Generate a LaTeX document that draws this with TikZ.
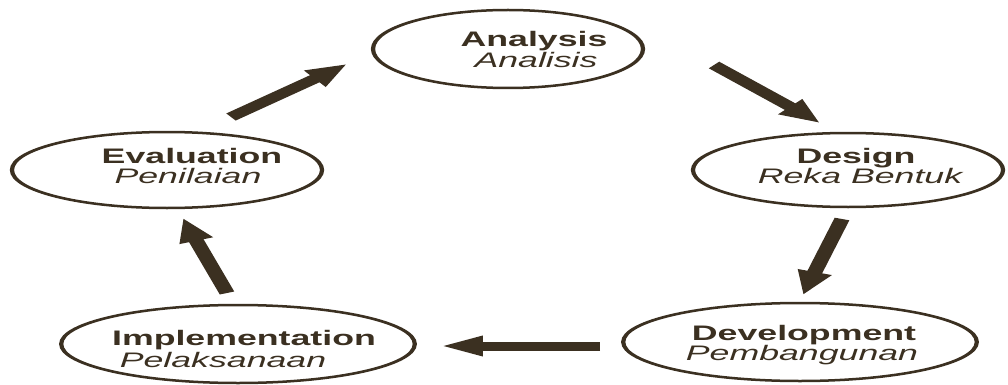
\documentclass[tikz,border=0pt]{standalone}
\usepackage{fontspec}
\setmainfont{Liberation Sans}
\usetikzlibrary{arrows.meta,shapes.geometric}
\definecolor{ink}{HTML}{3B3021}
\begin{document}
\begin{tikzpicture}[x=1pt,y=-1pt]
\useasboundingbox (0,0) rectangle (1008,385);
% everything is drawn in a horizontally widened frame
\begin{scope}[x=0.588235pt, y=-1pt, transform canvas={xscale=1.7},
  phase/.style={draw=ink, line width=2.5pt, ellipse, inner sep=0pt, outer sep=0pt},
  title/.style={font=\fontsize{21}{21}\selectfont\bfseries, text=ink, anchor=base, inner sep=0pt},
  subtitle/.style={font=\fontsize{21}{21}\selectfont\itshape, text=ink, anchor=base, inner sep=0pt},
  flow/.style={draw=ink, line width=9pt, -{Triangle[length=24pt,width=19pt]}}]

  % phases of the cycle
  \node[phase, minimum width=158.8pt, minimum height=78pt] (an) at (508,49) {};
  \node[phase, minimum width=182.4pt, minimum height=74pt] (de) at (848,170) {};
  \node[phase, minimum width=208pt, minimum height=78pt] (dv) at (800,342) {};
  \node[phase, minimum width=208pt, minimum height=78pt] (im) at (238,344) {};
  \node[phase, minimum width=182.4pt, minimum height=76pt] (ev) at (167,170) {};

  % labels
  \node[title]    (anA) at (534,47)  {Analysis};
  \node[subtitle] (anB) at (536,68)  {Analisis};
  \node[title]    (deA) at (856,163) {Design};
  \node[subtitle] (deB) at (860,183) {Reka Bentuk};
  \node[title]    (dvA) at (804,340) {Development};
  \node[subtitle] (dvB) at (802,360) {Pembangunan};
  \node[title]    (imA) at (244,345) {Implementation};
  \node[subtitle] (imB) at (223,367) {Pelaksanaan};
  \node[title]    (evA) at (192,163) {Evaluation};
  \node[subtitle] (evB) at (188,183) {Penilaian};

  % arrow ends between the phases
  \coordinate (s1) at (231,117); \coordinate (e1) at (347,64);
  \coordinate (s2) at (714,65);  \coordinate (e2) at (820,123);
  \coordinate (s3) at (842,219); \coordinate (e3) at (803,295);
  \coordinate (s4) at (600,346); \coordinate (e4) at (442,346);
  \coordinate (s5) at (227,293); \coordinate (e5) at (183,218);

  \draw[flow] (s1) -- (e1);
  \draw[flow] (s2) -- (e2);
  \draw[flow] (s3) -- (e3);
  \draw[flow] (s4) -- (e4);
  \draw[flow] (s5) -- (e5);
\end{scope}
\end{tikzpicture}
\end{document}
